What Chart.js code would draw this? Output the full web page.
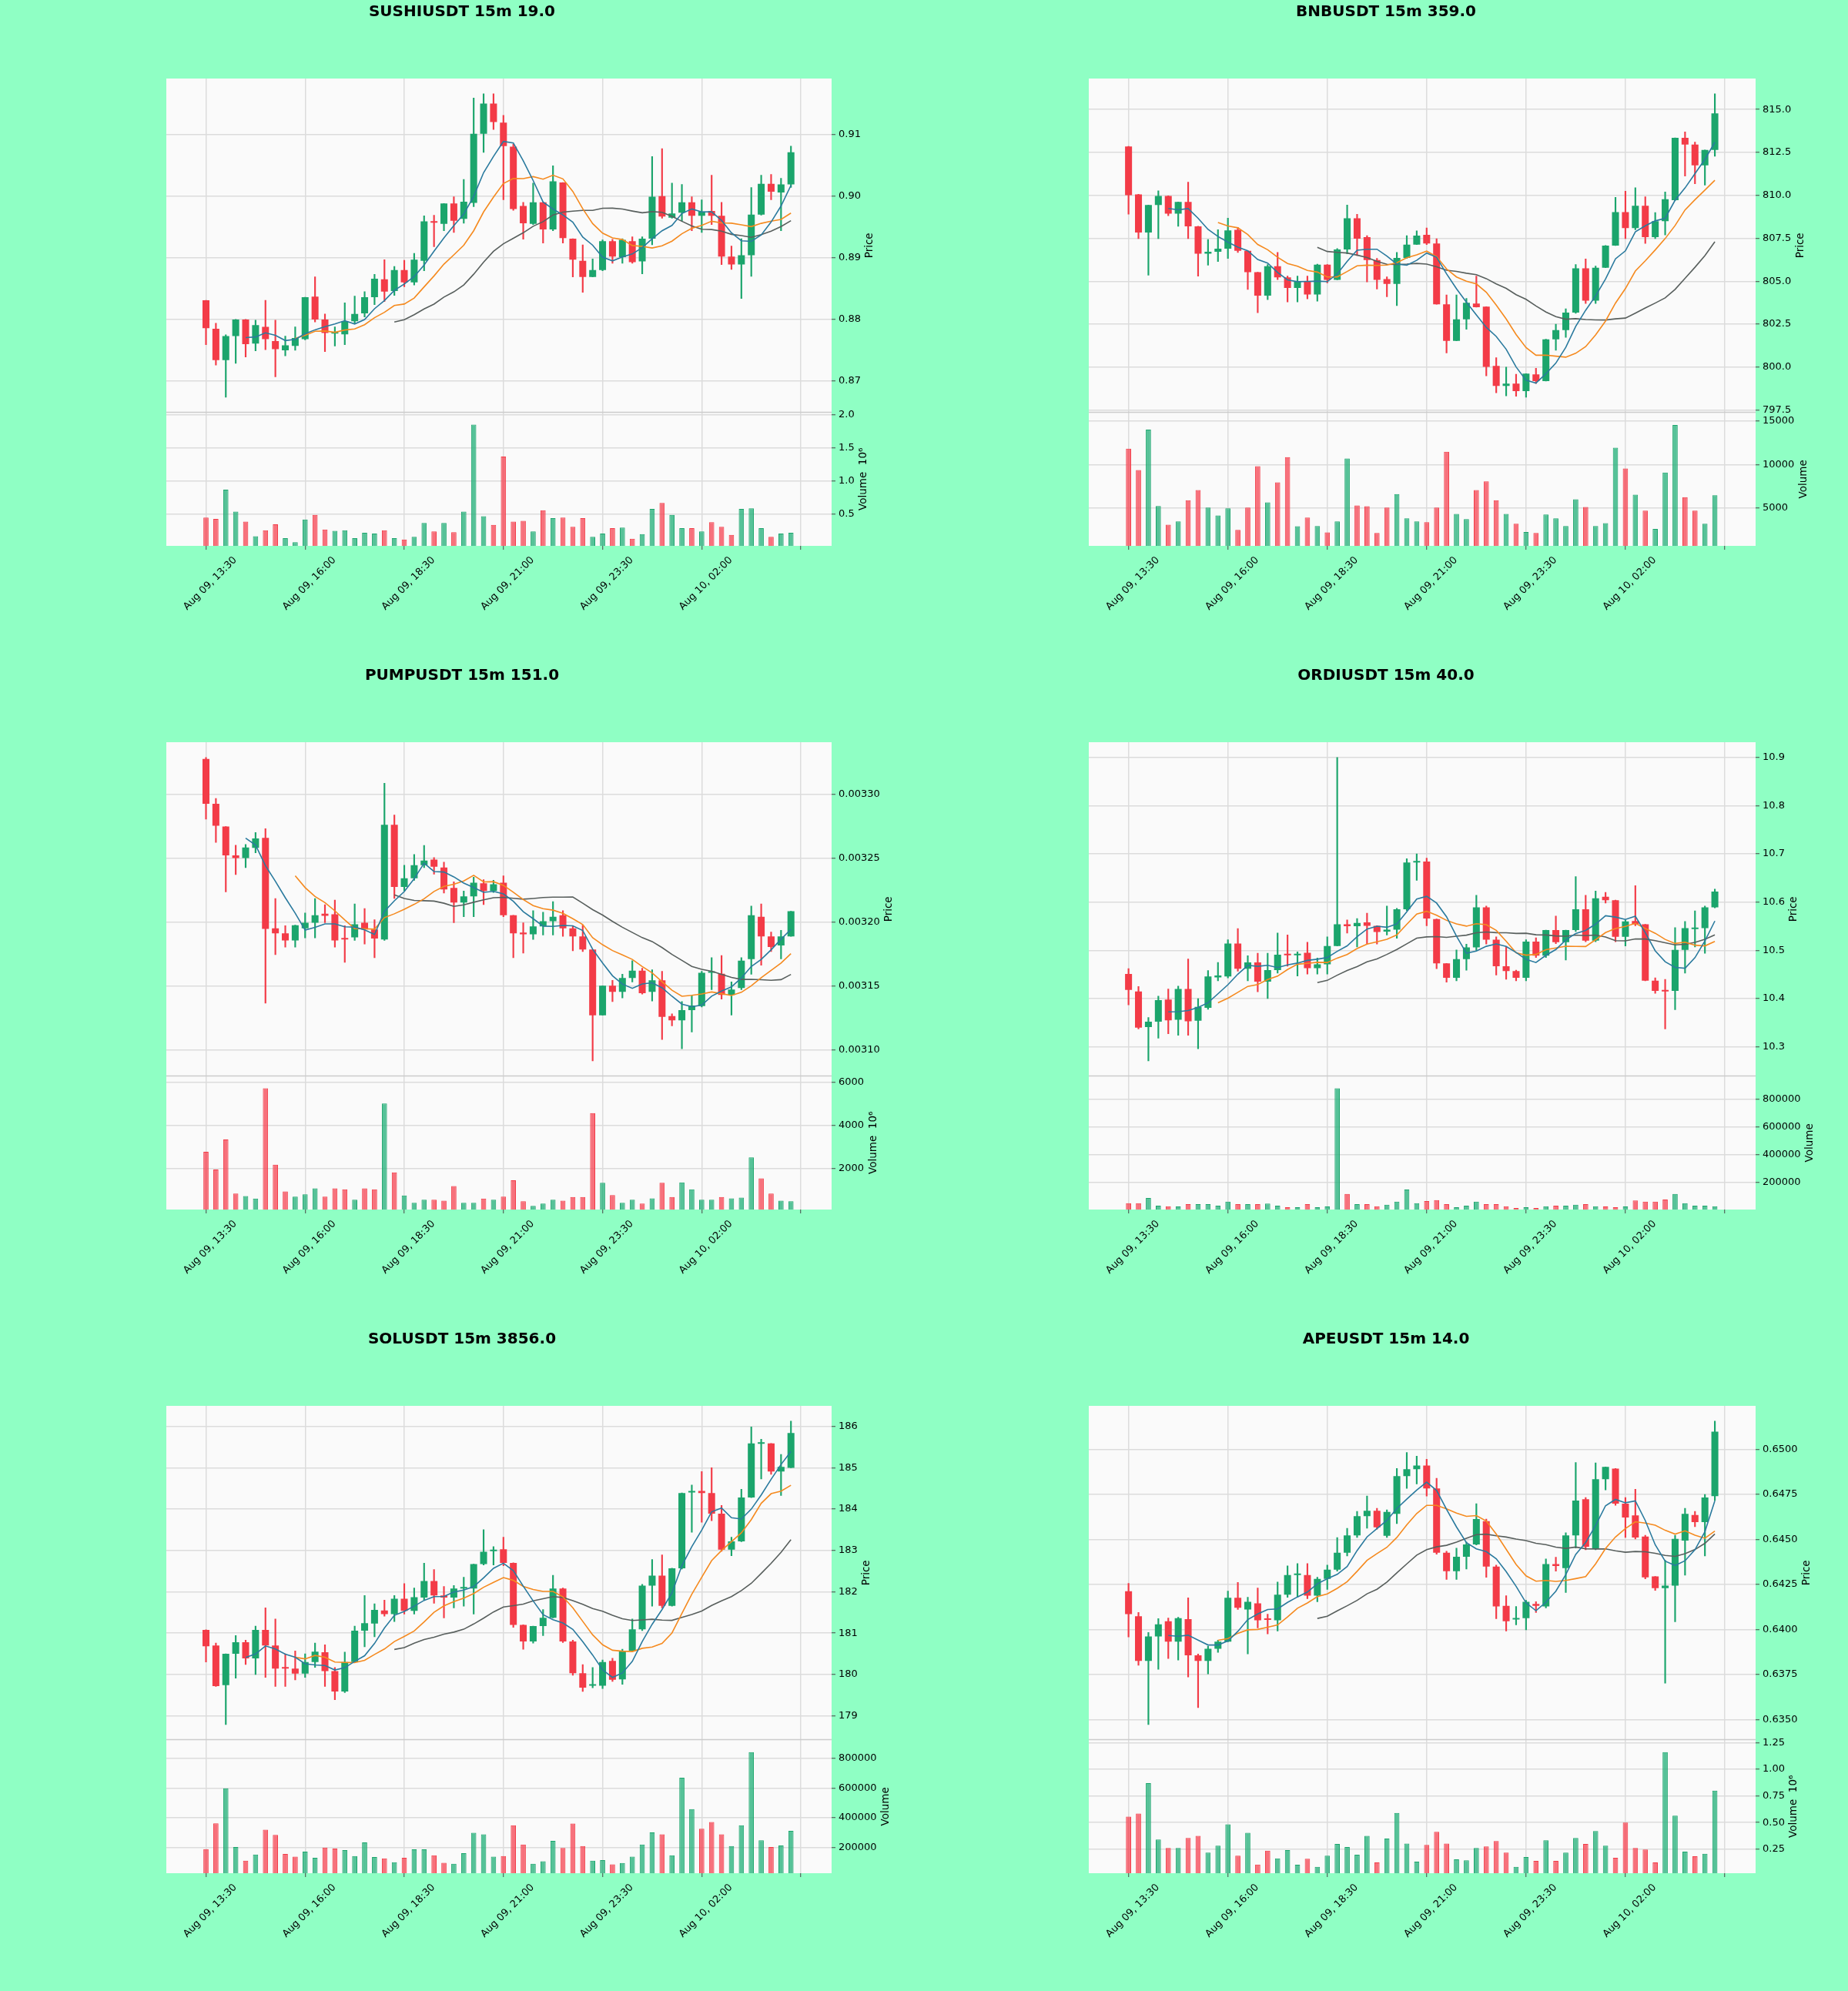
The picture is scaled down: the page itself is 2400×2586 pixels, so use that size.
<!DOCTYPE html>
<html>
<head>
<meta charset="utf-8">
<script src="https://cdn.jsdelivr.net/npm/chart.js@4.4.1/dist/chart.umd.min.js"></script>
<style>
  html, body { margin: 0; padding: 0; background: #8fffc4; }
  #wrap { position: relative; width: 2400px; height: 2586px; }
  .cell { position: absolute; width: 1200px; height: 862px; }
</style>
</head>
<body>
<div id="wrap">
  <div class="cell" style="left:0;top:0"><canvas id="c0" width="1200" height="862"></canvas></div>
  <div class="cell" style="left:1200px;top:0"><canvas id="c1" width="1200" height="862"></canvas></div>
  <div class="cell" style="left:0;top:862px"><canvas id="c2" width="1200" height="862"></canvas></div>
  <div class="cell" style="left:1200px;top:862px"><canvas id="c3" width="1200" height="862"></canvas></div>
  <div class="cell" style="left:0;top:1724px"><canvas id="c4" width="1200" height="862"></canvas></div>
  <div class="cell" style="left:1200px;top:1724px"><canvas id="c5" width="1200" height="862"></canvas></div>
</div>
<script>
// x axis: candle index 0..59, ticks every 10 candles
const tickPos = [0, 10, 20, 30, 40, 50, 60]
const tickLabels = ['Aug 09, 13:30', 'Aug 09, 16:00', 'Aug 09, 18:30', 'Aug 09, 21:00', 'Aug 09, 23:30', 'Aug 10, 02:00', '']
const titles = ['SUSHIUSDT 15m 19.0', 'BNBUSDT 15m 359.0', 'PUMPUSDT 15m 151.0', 'ORDIUSDT 15m 40.0', 'SOLUSDT 15m 3856.0', 'APEUSDT 15m 14.0']
const mavPeriods = [5, 10, 20]

// SUSHIUSDT
const sushiOpen = [0.8831,0.8785,0.8734,0.8773,0.8800,0.8761,0.8788,0.8765,0.8750,0.8757,0.8768,0.8837,0.8800,0.8777,0.8776,0.8797,0.8810,0.8836,0.8865,0.8846,0.8880,0.8860,0.8895,0.8958,0.8955,0.8988,0.8963,0.8989,0.9101,0.9150,0.9119,0.9080,0.8984,0.8955,0.8990,0.8946,0.9022,0.8931,0.8895,0.8869,0.8880,0.8927,0.8901,0.8927,0.8894,0.8931,0.9000,0.8965,0.8973,0.8990,0.8968,0.8976,0.8968,0.8902,0.8889,0.8904,0.8970,0.9020,0.9006,0.9019]
const sushiHigh = [0.8831,0.8794,0.8775,0.8800,0.8800,0.8799,0.8831,0.8799,0.8773,0.8788,0.8836,0.8869,0.8809,0.8788,0.8827,0.8838,0.8845,0.8873,0.8897,0.8886,0.8896,0.8907,0.8968,0.8969,0.8988,0.8999,0.9027,0.9159,0.9166,0.9166,0.9131,0.9084,0.8990,0.9021,0.8990,0.9049,0.9022,0.8931,0.8921,0.8898,0.8929,0.8930,0.8931,0.8934,0.8934,0.9064,0.9077,0.9021,0.9019,0.8999,0.8994,0.9034,0.8990,0.8919,0.8931,0.9014,0.9034,0.9035,0.9029,0.9081]
const sushiLow = [0.8759,0.8726,0.8674,0.8729,0.8739,0.8749,0.8751,0.8707,0.8741,0.8750,0.8767,0.8796,0.8748,0.8757,0.8759,0.8794,0.8804,0.8824,0.8829,0.8839,0.8853,0.8856,0.8879,0.8918,0.8944,0.8941,0.8956,0.8983,0.9071,0.9108,0.8994,0.8977,0.8930,0.8954,0.8924,0.8944,0.8924,0.8869,0.8844,0.8869,0.8879,0.8891,0.8891,0.8891,0.8874,0.8921,0.8964,0.8964,0.8959,0.8944,0.8941,0.8954,0.8889,0.8881,0.8834,0.8870,0.8969,0.8994,0.8944,0.9014]
const sushiClose = [0.8786,0.8734,0.8773,0.8800,0.8760,0.8791,0.8768,0.8752,0.8758,0.8770,0.8836,0.8800,0.8778,0.8779,0.8797,0.8809,0.8836,0.8866,0.8845,0.8880,0.8860,0.8897,0.8959,0.8957,0.8988,0.8960,0.8991,0.9101,0.9150,0.9120,0.9081,0.8979,0.8956,0.8990,0.8946,0.9024,0.8932,0.8897,0.8869,0.8880,0.8927,0.8902,0.8929,0.8893,0.8931,0.8999,0.8967,0.8972,0.8990,0.8968,0.8975,0.8968,0.8902,0.8889,0.8904,0.8970,0.9020,0.9007,0.9019,0.9071]
const sushiVolume = [0.45e6,0.43e6,0.87e6,0.54e6,0.39e6,0.17e6,0.26e6,0.35e6,0.14e6,0.08e6,0.42e6,0.49e6,0.27e6,0.25e6,0.26e6,0.14e6,0.22e6,0.21e6,0.26e6,0.14e6,0.12e6,0.16e6,0.37e6,0.24e6,0.37e6,0.23e6,0.54e6,1.85e6,0.47e6,0.34e6,1.37e6,0.39e6,0.40e6,0.24e6,0.56e6,0.44e6,0.45e6,0.31e6,0.44e6,0.16e6,0.21e6,0.29e6,0.30e6,0.13e6,0.20e6,0.58e6,0.67e6,0.49e6,0.29e6,0.29e6,0.24e6,0.38e6,0.31e6,0.19e6,0.58e6,0.59e6,0.29e6,0.16e6,0.21e6,0.22e6]

// BNBUSDT
const bnbOpen = [812.85,810.06,807.84,809.44,809.97,808.94,809.62,808.20,806.60,806.72,806.90,808.00,806.77,805.53,804.16,805.88,805.23,804.61,805.00,804.23,805.97,805.08,806.85,808.67,807.57,806.24,805.12,804.85,806.36,807.13,807.70,807.20,803.66,801.53,802.78,803.70,803.52,800.07,798.90,799.04,798.60,799.58,799.19,801.62,802.15,803.17,805.75,803.87,805.79,807.08,809.02,808.10,809.39,807.57,808.50,809.72,813.35,812.96,811.75,812.64]
const bnbHigh = [812.85,810.06,809.44,810.27,809.97,809.62,810.77,808.20,807.43,808.00,808.67,808.14,806.77,805.53,805.97,806.68,805.30,805.30,805.30,806.00,805.97,806.90,809.44,808.90,807.66,806.33,805.26,806.68,807.66,807.93,808.10,807.48,804.20,804.20,804.00,805.30,803.52,800.55,800.00,799.58,799.62,799.93,801.62,802.50,803.40,805.97,806.30,805.88,807.08,809.88,810.24,810.45,809.92,809.00,810.20,813.35,813.70,813.10,812.64,815.92]
const bnbLow = [808.91,807.48,805.35,807.48,808.82,808.20,807.48,805.30,805.94,806.15,806.33,806.68,804.52,803.17,803.93,805.09,803.80,803.80,803.98,803.84,804.90,805.08,806.60,806.50,804.96,804.55,804.10,803.58,806.33,807.13,807.13,803.66,800.82,801.53,802.20,803.49,799.49,798.50,798.33,798.30,798.25,799.04,799.19,800.98,801.73,803.13,803.70,803.70,805.79,807.08,807.48,808.00,807.20,807.48,807.70,809.70,811.13,810.68,810.60,812.28]
const bnbClose = [810.01,807.84,809.44,809.97,808.94,809.62,808.20,806.60,806.72,806.90,807.96,806.77,805.53,804.16,805.88,805.23,804.61,805.00,804.23,805.97,805.08,806.85,808.67,807.48,806.24,805.08,804.85,806.36,807.13,807.66,807.20,803.66,801.53,802.78,803.75,803.49,800.02,798.90,799.04,798.60,799.62,799.19,801.62,802.15,803.17,805.75,803.87,805.79,807.08,809.02,808.10,809.39,807.57,808.50,809.78,813.35,812.96,811.75,812.64,814.77]
const bnbVolume = [11840,9365,14030,5230,3075,3460,5900,7070,5050,4135,4950,2475,5050,9825,5655,7950,10850,2900,3890,2930,2190,3460,10710,5300,5195,2120,5050,6610,3815,3460,3355,5050,11485,4310,3710,7070,8060,5900,4310,3180,2225,2120,4240,3815,2930,6010,5125,2930,3250,11945,9540,6540,4700,2580,9080,14560,6255,4700,3180,6465]

// PUMPUSDT
const pumpOpen = [332.76e-5,329.24e-5,327.46e-5,325.20e-5,325.00e-5,325.80e-5,326.58e-5,319.50e-5,319.10e-5,318.55e-5,319.50e-5,319.93e-5,320.64e-5,320.60e-5,318.74e-5,318.79e-5,319.93e-5,319.40e-5,318.62e-5,327.60e-5,322.73e-5,323.42e-5,324.44e-5,324.87e-5,324.25e-5,322.66e-5,321.52e-5,322.00e-5,323.02e-5,322.42e-5,323.07e-5,320.52e-5,319.17e-5,319.03e-5,319.64e-5,320.05e-5,320.52e-5,319.50e-5,318.86e-5,317.84e-5,312.69e-5,315.00e-5,314.52e-5,315.60e-5,316.18e-5,314.52e-5,315.42e-5,312.62e-5,312.29e-5,313.09e-5,313.40e-5,316.01e-5,315.94e-5,314.28e-5,314.82e-5,317.08e-5,320.40e-5,318.86e-5,318.15e-5,318.86e-5]
const pumpHigh = [332.88e-5,329.67e-5,327.46e-5,326.00e-5,326.06e-5,327.00e-5,327.29e-5,321.83e-5,319.70e-5,319.74e-5,320.69e-5,321.83e-5,321.35e-5,321.71e-5,319.70e-5,321.40e-5,321.05e-5,320.17e-5,330.86e-5,328.36e-5,324.44e-5,325.27e-5,325.99e-5,325.04e-5,324.68e-5,323.14e-5,322.42e-5,323.50e-5,323.30e-5,323.26e-5,323.60e-5,320.52e-5,319.93e-5,320.88e-5,320.76e-5,321.59e-5,320.88e-5,319.69e-5,319.74e-5,317.84e-5,315.00e-5,315.42e-5,315.90e-5,316.96e-5,316.37e-5,316.25e-5,316.13e-5,312.80e-5,313.76e-5,314.23e-5,316.13e-5,317.20e-5,317.37e-5,315.30e-5,317.20e-5,321.24e-5,321.40e-5,319.20e-5,319.34e-5,320.83e-5]
const pumpLow = [328.05e-5,326.22e-5,322.35e-5,323.70e-5,324.25e-5,325.40e-5,313.64e-5,317.44e-5,318.03e-5,318.03e-5,318.74e-5,318.74e-5,319.93e-5,318.03e-5,316.84e-5,318.55e-5,318.27e-5,317.20e-5,318.55e-5,321.83e-5,322.42e-5,323.25e-5,324.25e-5,323.73e-5,322.26e-5,319.93e-5,320.40e-5,320.40e-5,321.35e-5,322.30e-5,320.40e-5,317.20e-5,317.56e-5,318.62e-5,318.98e-5,318.98e-5,318.86e-5,317.74e-5,317.67e-5,309.12e-5,312.69e-5,313.76e-5,314.04e-5,315.30e-5,314.35e-5,313.80e-5,310.79e-5,311.86e-5,310.07e-5,311.38e-5,313.33e-5,314.70e-5,313.95e-5,312.70e-5,314.70e-5,315.90e-5,316.60e-5,317.67e-5,317.10e-5,318.86e-5]
const pumpClose = [329.24e-5,327.53e-5,325.20e-5,325.00e-5,325.82e-5,326.53e-5,319.45e-5,319.10e-5,318.55e-5,319.74e-5,319.93e-5,320.52e-5,320.47e-5,318.55e-5,318.62e-5,319.81e-5,319.40e-5,318.70e-5,327.60e-5,322.73e-5,323.42e-5,324.44e-5,324.80e-5,324.32e-5,322.54e-5,321.52e-5,322.00e-5,323.07e-5,322.42e-5,322.95e-5,320.52e-5,319.10e-5,319.03e-5,319.64e-5,320.05e-5,320.40e-5,319.50e-5,318.86e-5,317.84e-5,312.69e-5,315.00e-5,314.52e-5,315.60e-5,316.18e-5,314.42e-5,315.42e-5,312.57e-5,312.29e-5,313.09e-5,313.45e-5,316.01e-5,316.10e-5,314.28e-5,314.70e-5,316.96e-5,320.52e-5,318.86e-5,318.03e-5,318.86e-5,320.83e-5]
const pumpVolume = [2770e6,1940e6,3340e6,820e6,700e6,590e6,5730e6,2170e6,920e6,680e6,780e6,1060e6,680e6,1060e6,1020e6,530e6,1060e6,1020e6,5020e6,1810e6,730e6,390e6,530e6,530e6,490e6,1170e6,390e6,390e6,590e6,530e6,680e6,1440e6,460e6,250e6,350e6,530e6,490e6,660e6,660e6,4570e6,1320e6,750e6,390e6,530e6,350e6,600e6,1320e6,660e6,1340e6,1020e6,530e6,530e6,660e6,600e6,630e6,2510e6,1530e6,820e6,490e6,460e6]

// ORDIUSDT
const ordiOpen = [10.451,10.415,10.341,10.352,10.398,10.356,10.420,10.354,10.381,10.444,10.446,10.514,10.462,10.475,10.435,10.459,10.493,10.490,10.495,10.463,10.471,10.509,10.554,10.550,10.558,10.551,10.539,10.543,10.585,10.682,10.684,10.565,10.473,10.443,10.482,10.506,10.589,10.522,10.467,10.457,10.443,10.518,10.489,10.542,10.517,10.542,10.585,10.520,10.611,10.604,10.528,10.561,10.554,10.437,10.418,10.416,10.501,10.544,10.546,10.589]
const ordiHigh = [10.462,10.425,10.361,10.405,10.420,10.426,10.482,10.400,10.458,10.475,10.522,10.545,10.489,10.494,10.494,10.536,10.532,10.497,10.517,10.484,10.528,10.900,10.563,10.566,10.577,10.551,10.592,10.587,10.690,10.700,10.691,10.565,10.473,10.501,10.513,10.614,10.592,10.528,10.508,10.459,10.522,10.526,10.542,10.571,10.542,10.653,10.614,10.623,10.620,10.604,10.563,10.634,10.554,10.443,10.440,10.547,10.560,10.582,10.592,10.627]
const ordiLow = [10.387,10.337,10.271,10.318,10.327,10.324,10.324,10.296,10.378,10.437,10.443,10.457,10.437,10.414,10.400,10.453,10.467,10.447,10.451,10.451,10.451,10.509,10.536,10.507,10.513,10.513,10.532,10.525,10.582,10.645,10.551,10.462,10.434,10.437,10.459,10.500,10.513,10.449,10.440,10.437,10.437,10.485,10.485,10.514,10.480,10.539,10.518,10.518,10.598,10.518,10.509,10.551,10.437,10.411,10.337,10.377,10.453,10.507,10.494,10.588]
const ordiClose = [10.418,10.340,10.352,10.397,10.355,10.420,10.353,10.383,10.446,10.448,10.514,10.462,10.475,10.435,10.459,10.491,10.490,10.493,10.463,10.471,10.509,10.554,10.550,10.557,10.551,10.538,10.543,10.585,10.682,10.684,10.566,10.473,10.443,10.482,10.506,10.589,10.522,10.467,10.457,10.443,10.518,10.489,10.542,10.517,10.542,10.585,10.520,10.608,10.604,10.528,10.560,10.554,10.437,10.416,10.415,10.501,10.546,10.546,10.589,10.622]
const ordiVolume = [50000,50000,87600,32000,28000,26000,43000,43000,43000,32000,61000,43000,43000,43000,48000,32000,21000,21000,43000,21000,26000,877000,116000,43000,43000,28000,39000,61000,149000,50000,65000,72000,43000,21000,32000,61000,43000,43000,28000,15000,21000,15000,28000,32000,32000,39000,43000,28000,26000,21000,26000,70000,61000,61000,76000,116000,50000,32000,32000,28000]

// SOLUSDT
const solOpen = [181.08,180.70,179.74,180.50,180.78,180.39,181.08,180.70,180.15,180.14,180.02,180.30,180.54,180.08,179.59,180.30,181.06,181.23,181.55,181.46,181.83,181.54,181.86,182.26,181.91,181.86,182.08,182.08,182.67,182.98,183.03,182.70,181.20,180.80,181.17,181.37,182.08,180.80,180.03,179.73,179.73,180.33,179.88,180.57,181.09,182.15,182.39,181.66,182.57,184.40,184.44,184.39,183.89,183.02,183.22,184.28,185.58,185.59,184.91,185.00]
const solHigh = [181.08,180.76,180.50,180.94,180.83,181.17,181.61,181.34,180.50,180.57,180.50,180.76,180.72,180.17,180.54,181.17,181.91,181.71,181.80,181.91,182.20,182.09,182.69,182.54,182.13,182.15,182.35,182.67,183.50,183.09,183.32,182.70,181.20,181.17,181.57,182.40,182.09,180.83,180.24,180.17,180.35,180.39,180.61,181.34,182.18,182.78,182.89,182.57,184.39,184.58,184.91,185.00,184.09,183.32,184.48,185.99,185.69,185.59,185.32,186.13]
const solLow = [180.30,179.71,178.79,179.91,180.24,180.00,179.93,179.71,179.71,179.87,179.93,180.17,179.71,179.39,179.56,180.30,180.67,180.91,181.41,181.28,181.46,181.46,181.80,181.72,181.37,181.61,181.65,181.46,182.65,182.65,182.63,181.14,180.61,180.76,180.94,181.37,180.77,179.98,179.59,179.68,179.66,179.83,179.76,180.57,181.06,181.65,181.61,181.65,182.55,183.44,183.68,183.72,182.98,182.87,183.21,184.28,184.73,184.84,184.33,185.00]
const solClose = [180.68,179.72,180.50,180.78,180.39,181.08,180.70,180.14,180.14,180.02,180.30,180.55,180.08,179.59,180.30,181.06,181.24,181.56,181.46,181.83,181.54,181.87,182.26,181.91,181.86,182.08,182.10,182.67,182.97,183.02,182.70,181.20,180.80,181.17,181.37,182.08,180.80,180.03,179.68,179.76,180.30,179.87,180.57,181.09,182.15,182.39,181.66,182.57,184.39,184.44,184.39,183.89,183.02,183.22,184.28,185.59,185.60,184.91,185.02,185.84]
const solVolume = [188000,362000,597000,202000,110000,151000,319000,284000,155000,137000,171000,130000,198000,192000,182000,141000,233000,135000,125000,100000,130000,186000,186000,147000,96000,89000,161000,298000,288000,137000,141000,349000,219000,89000,106000,243000,196000,360000,208000,110000,114000,86000,94000,137000,219000,300000,288000,147000,669000,458000,325000,370000,288000,208000,349000,841000,247000,202000,212000,311000]

// APEUSDT
const apeOpen = [6421.3e-4,6407.4e-4,6382.5e-4,6396.1e-4,6404.6e-4,6393.2e-4,6405.7e-4,6385.6e-4,6382.5e-4,6389.3e-4,6393.2e-4,6417.6e-4,6411.1e-4,6414.5e-4,6406.0e-4,6405.1e-4,6419.3e-4,6430.2e-4,6430.2e-4,6418.8e-4,6428.1e-4,6433.2e-4,6442.6e-4,6452.3e-4,6463.0e-4,6465.9e-4,6452.0e-4,6464.2e-4,6485.2e-4,6489.1e-4,6491.1e-4,6478.4e-4,6442.6e-4,6432.4e-4,6440.4e-4,6447.2e-4,6460.2e-4,6434.9e-4,6413.1e-4,6405.5e-4,6406.3e-4,6414.2e-4,6412.8e-4,6436.3e-4,6434.1e-4,6452.3e-4,6472.4e-4,6444.8e-4,6483.5e-4,6489.4e-4,6469.9e-4,6463.4e-4,6451.6e-4,6429.5e-4,6423.0e-4,6424.4e-4,6449.4e-4,6463.6e-4,6459.6e-4,6474.1e-4]
const apeHigh = [6425.6e-4,6409.4e-4,6398.3e-4,6406.0e-4,6406.3e-4,6406.8e-4,6417.6e-4,6386.4e-4,6390.7e-4,6394.1e-4,6421.3e-4,6426.1e-4,6417.9e-4,6423.0e-4,6408.5e-4,6426.4e-4,6435.3e-4,6436.6e-4,6436.6e-4,6429.0e-4,6435.8e-4,6451.1e-4,6456.2e-4,6465.6e-4,6474.1e-4,6467.3e-4,6466.5e-4,6489.4e-4,6498.3e-4,6496.3e-4,6494.6e-4,6484.0e-4,6443.5e-4,6445.2e-4,6448.6e-4,6469.9e-4,6461.3e-4,6435.8e-4,6418.8e-4,6412.8e-4,6416.2e-4,6415.4e-4,6439.2e-4,6440.1e-4,6453.7e-4,6492.8e-4,6473.3e-4,6492.5e-4,6490.3e-4,6489.4e-4,6473.3e-4,6477.9e-4,6452.3e-4,6429.5e-4,6438.4e-4,6452.3e-4,6467.3e-4,6465.6e-4,6475.0e-4,6515.8e-4]
const apeLow = [6395.8e-4,6380.1e-4,6347.2e-4,6377.9e-4,6383.9e-4,6383.0e-4,6373.6e-4,6356.6e-4,6375.3e-4,6387.3e-4,6393.2e-4,6411.1e-4,6386.4e-4,6400.9e-4,6397.5e-4,6399.2e-4,6417.9e-4,6417.9e-4,6417.1e-4,6415.4e-4,6422.2e-4,6432.4e-4,6440.9e-4,6451.1e-4,6456.2e-4,6455.7e-4,6451.1e-4,6458.8e-4,6478.4e-4,6480.9e-4,6474.1e-4,6441.8e-4,6427.8e-4,6427.8e-4,6433.6e-4,6446.9e-4,6429.0e-4,6406.0e-4,6399.2e-4,6402.6e-4,6399.8e-4,6409.4e-4,6412.0e-4,6432.4e-4,6420.5e-4,6445.2e-4,6444.3e-4,6444.3e-4,6477.5e-4,6469.0e-4,6451.1e-4,6450.3e-4,6428.1e-4,6421.7e-4,6370.2e-4,6404.3e-4,6430.2e-4,6457.1e-4,6440.9e-4,6471.6e-4]
const apeClose = [6408.5e-4,6382.5e-4,6396.1e-4,6402.9e-4,6393.2e-4,6406.3e-4,6385.6e-4,6382.5e-4,6389.3e-4,6393.2e-4,6417.6e-4,6412.0e-4,6415.4e-4,6405.1e-4,6405.3e-4,6419.3e-4,6430.2e-4,6430.5e-4,6418.8e-4,6428.1e-4,6433.2e-4,6442.6e-4,6452.3e-4,6463.0e-4,6465.9e-4,6456.7e-4,6465.3e-4,6485.2e-4,6489.1e-4,6491.1e-4,6478.4e-4,6442.6e-4,6432.4e-4,6440.4e-4,6447.2e-4,6461.3e-4,6434.9e-4,6412.8e-4,6404.6e-4,6406.3e-4,6415.4e-4,6413.1e-4,6436.3e-4,6435.3e-4,6452.3e-4,6471.6e-4,6446.0e-4,6483.5e-4,6490.3e-4,6469.9e-4,6462.2e-4,6451.1e-4,6429.0e-4,6423.0e-4,6424.4e-4,6450.3e-4,6464.2e-4,6459.6e-4,6473.3e-4,6509.9e-4]
const apeVolume = [0.556e6,0.584e6,0.870e6,0.341e6,0.261e6,0.261e6,0.356e6,0.376e6,0.219e6,0.284e6,0.484e6,0.190e6,0.404e6,0.107e6,0.236e6,0.164e6,0.241e6,0.104e6,0.161e6,0.084e6,0.190e6,0.299e6,0.270e6,0.199e6,0.376e6,0.127e6,0.350e6,0.590e6,0.304e6,0.133e6,0.290e6,0.413e6,0.304e6,0.156e6,0.147e6,0.261e6,0.276e6,0.327e6,0.219e6,0.084e6,0.176e6,0.141e6,0.333e6,0.141e6,0.219e6,0.356e6,0.299e6,0.421e6,0.284e6,0.170e6,0.499e6,0.261e6,0.247e6,0.127e6,1.161e6,0.564e6,0.227e6,0.184e6,0.207e6,0.799e6]

const panels = [
  { id: 'c0', title: titles[0], o: sushiOpen, h: sushiHigh, l: sushiLow, c: sushiClose, v: sushiVolume, pStep: 0.01, pDig: 2, vStep: 0.5e6, vDig: 1, vExp: true },
  { id: 'c1', title: titles[1], o: bnbOpen, h: bnbHigh, l: bnbLow, c: bnbClose, v: bnbVolume, pStep: 2.5, pDig: 1, vStep: 5000, vDig: 0, vExp: false },
  { id: 'c2', title: titles[2], o: pumpOpen, h: pumpHigh, l: pumpLow, c: pumpClose, v: pumpVolume, pStep: 0.00005, pDig: 5, vStep: 2000e6, vDig: 0, vExp: true },
  { id: 'c3', title: titles[3], o: ordiOpen, h: ordiHigh, l: ordiLow, c: ordiClose, v: ordiVolume, pStep: 0.1, pDig: 1, vStep: 200000, vDig: 0, vExp: false },
  { id: 'c4', title: titles[4], o: solOpen, h: solHigh, l: solLow, c: solClose, v: solVolume, pStep: 1, pDig: 0, vStep: 200000, vDig: 0, vExp: false },
  { id: 'c5', title: titles[5], o: apeOpen, h: apeHigh, l: apeLow, c: apeClose, v: apeVolume, pStep: 0.0025, pDig: 4, vStep: 0.25e6, vDig: 2, vExp: true },
]

const upColor = '#1ba56c'
const downColor = '#f33b47'
const upVol = 'rgba(40,178,124,0.78)'
const downVol = 'rgba(246,74,88,0.78)'
const mavColors = ['#2a7a9e', '#f58a1f', '#585f5d']
const gridColor = '#dcdcdc'
const FONT = 'DejaVu Sans'

Chart.defaults.font.family = FONT
Chart.defaults.color = '#000'

// simple moving average of the closes, like mplfinance's mav
function sma(vals, n) {
  return vals.map((v, i) => i < n - 1 ? null : vals.slice(i - n + 1, i + 1).reduce((a, b) => a + b, 0) / n)
}

// ticks on multiples of step inside the axis range
function stepTicks(step) {
  return s => {
    const out = []
    for (let k = Math.ceil(s.min / step - 1e-9); k * step <= s.max * (1 + 1e-12); k++) out.push({ value: k * step })
    s.ticks = out
  }
}

const decor = {
  id: 'decor',
  beforeDraw(chart) {
    const { ctx, chartArea: a } = chart
    ctx.save()
    ctx.fillStyle = '#fafafa'
    ctx.fillRect(a.left, a.top, a.right - a.left, a.bottom - a.top)
    ctx.restore()
  },
  afterDraw(chart, args, opts) {
    const { ctx, chartArea: a } = chart
    const price = chart.scales.price
    const vol = chart.scales.volume
    ctx.save()
    // panel separator
    ctx.strokeStyle = '#cccccc'
    ctx.lineWidth = 1.5
    ctx.beginPath()
    ctx.moveTo(a.left, price.bottom)
    ctx.lineTo(a.right, price.bottom)
    ctx.stroke()
    // title
    ctx.fillStyle = '#000'
    ctx.font = 'bold 20px "' + FONT + '"'
    ctx.textAlign = 'center'
    ctx.textBaseline = 'middle'
    ctx.fillText(opts.title, chart.width / 2, 16)
    // axis labels, reading bottom to top like matplotlib
    const axisLabel = (scale, text) => {
      ctx.font = '13px "' + FONT + '"'
      const w = Math.max(...scale.ticks.map(t => ctx.measureText(t.label || '').width))
      const x = a.right + 5 + 4 + w + 12
      const y = (scale.top + scale.bottom) / 2
      ctx.save()
      ctx.font = '13.5px "' + FONT + '"'
      ctx.translate(x, y)
      ctx.rotate(-Math.PI / 2)
      ctx.fillText(text, 0, 0)
      ctx.restore()
    }
    axisLabel(price, 'Price')
    axisLabel(vol, opts.volLabel)
    ctx.restore()
  }
}

panels.forEach((p) => {
  const n = p.c.length
  const idx = p.c.map((_, i) => i)
  const up = idx.map(i => p.c[i] >= p.o[i])
  const candleColors = up.map(u => u ? upColor : downColor)
  const volColors = up.map(u => u ? upVol : downVol)
  const hiMax = Math.max(...p.h)
  const loMin = Math.min(...p.l)
  const pad = (hiMax - loMin) * 0.05
  const mavSets = mavPeriods.map((m, k) => ({
    type: 'line',
    data: sma(p.c, m).map((y, i) => ({ x: i, y })),
    borderColor: mavColors[k],
    borderWidth: 1.6,
    pointRadius: 0,
    yAxisID: 'price',
    order: 0,
  }))
  const fmtVol = v => p.vExp ? (v / 1e6).toFixed(p.vDig) : v.toFixed(p.vDig)
  const tickFont = { family: FONT, size: 13 }
  const yGrid = { color: gridColor, lineWidth: 1.5, tickLength: 5, tickColor: '#444', tickWidth: 1 }

  new Chart(document.getElementById(p.id), {
    type: 'bar',
    data: {
      datasets: [
        ...mavSets,
        {
          data: idx.map(i => ({ x: i, y: [p.o[i], p.c[i]] })),
          backgroundColor: candleColors,
          borderWidth: 0,
          barPercentage: 0.7,
          categoryPercentage: 1,
          grouped: false,
          minBarLength: 2,
          yAxisID: 'price',
          order: 1,
        },
        {
          data: idx.map(i => ({ x: i, y: [p.l[i], p.h[i]] })),
          backgroundColor: candleColors,
          borderWidth: 0,
          barThickness: 1.5,
          grouped: false,
          yAxisID: 'price',
          order: 2,
        },
        {
          data: idx.map(i => ({ x: i, y: p.v[i] })),
          backgroundColor: volColors,
          borderColor: candleColors,
          borderWidth: { top: 1, left: 1, right: 1, bottom: 0 },
          barPercentage: 0.52,
          categoryPercentage: 1,
          grouped: false,
          yAxisID: 'volume',
          order: 3,
        },
      ],
    },
    options: {
      responsive: false,
      animation: false,
      layout: { padding: { left: p.id === 'c0' || p.id === 'c2' || p.id === 'c4' ? 216 : 214, right: 0, top: 102, bottom: 0 } },
      plugins: {
        legend: { display: false },
        tooltip: { enabled: false },
        decor: { title: p.title, volLabel: p.vExp ? 'Volume  10\u2076' : 'Volume' },
      },
      scales: {
        x: {
          type: 'linear',
          offset: false,
          min: -4,
          max: n + 3.1,
          afterBuildTicks: s => { s.ticks = tickPos.map(v => ({ value: v })) },
          afterFit: s => { s.height = 153 },
          ticks: {
            callback: v => tickLabels[tickPos.indexOf(v)],
            minRotation: 45,
            maxRotation: 45,
            labelOffset: 38,
            padding: 6,
            font: tickFont,
            color: '#000',
          },
          grid: { color: gridColor, lineWidth: 1.5, tickLength: 5, tickColor: '#444', tickWidth: 1, offset: false },
          border: { display: false },
        },
        price: {
          type: 'linear',
          position: 'right',
          stack: 'panel',
          stackWeight: 5,
          min: loMin - pad,
          max: hiMax + pad,
          afterFit: s => { s.width = 120 },
          afterBuildTicks: stepTicks(p.pStep),
          ticks: {
            callback: v => v.toFixed(p.pDig),
            padding: 4,
            font: tickFont,
            color: '#000',
          },
          grid: yGrid,
          border: { display: false },
        },
        volume: {
          type: 'linear',
          position: 'right',
          stack: 'panel',
          stackWeight: 2,
          min: Math.min(...p.v) * 0.3,
          max: Math.max(...p.v) * 1.1,
          afterFit: s => { s.width = 120 },
          afterBuildTicks: stepTicks(p.vStep),
          ticks: {
            callback: v => fmtVol(v),
            padding: 4,
            font: tickFont,
            color: '#000',
          },
          grid: yGrid,
          border: { display: false },
        },
      },
    },
    plugins: [decor],
  })
})
</script>
</body>
</html>
